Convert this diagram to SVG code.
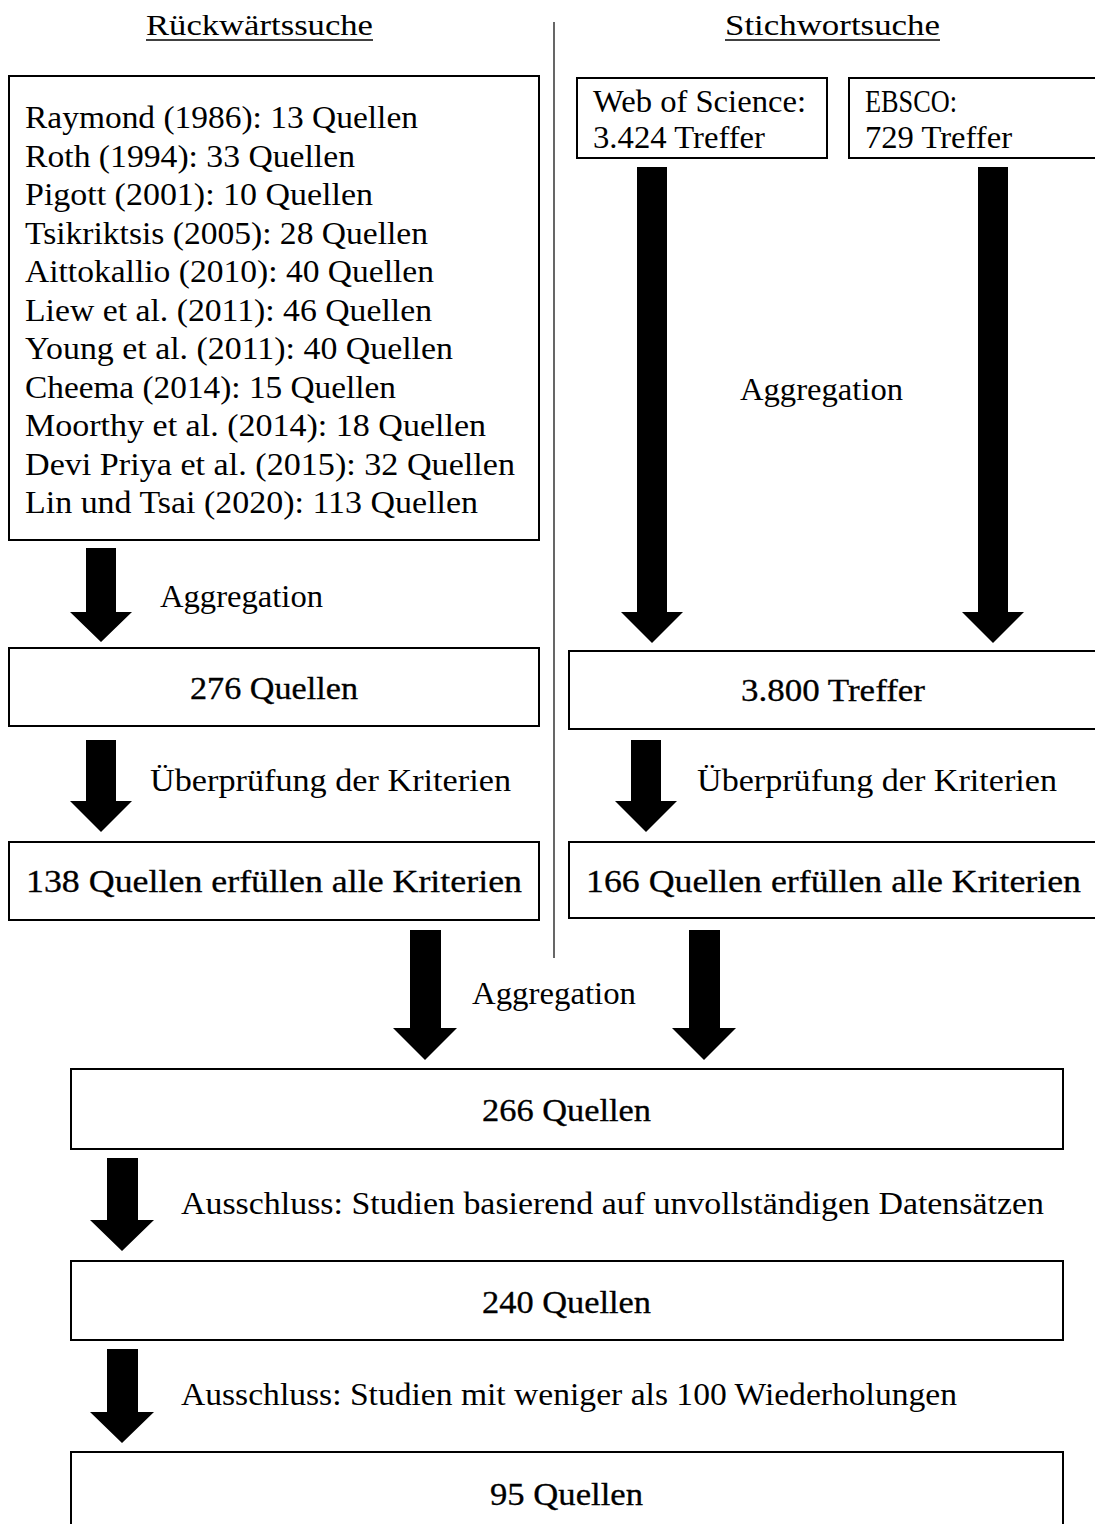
<svg xmlns="http://www.w3.org/2000/svg" width="1095" height="1524" viewBox="0 0 1095 1524" font-family="Liberation Serif, DejaVu Serif, serif">
<style>
text{font-family:'Liberation Serif','DejaVu Serif',serif;font-size:31.5px;fill:#000}
.b{stroke:#000;stroke-width:0.3}
.h{font-size:29px}
rect.n{fill:#fff;stroke:#000;stroke-width:2}
.ar{fill:#000}
</style>
<rect width="1095" height="1524" fill="#fff"/>
<g id="headers">
<text class="h" x="146" y="35" textLength="227" lengthAdjust="spacingAndGlyphs">Rückwärtssuche</text>
<line x1="146" y1="40" x2="373" y2="40" stroke="#000" stroke-width="1.6"/>
<text class="h" x="725" y="35" textLength="215" lengthAdjust="spacingAndGlyphs">Stichwortsuche</text>
<line x1="725" y1="40" x2="940" y2="40" stroke="#000" stroke-width="1.6"/>
</g>
<line id="divider" x1="554" y1="22" x2="554" y2="958" stroke="#000" stroke-width="1.2"/>
<g id="n_list">
<rect class="n" x="9" y="76" width="530" height="464"/>
<text x="25" y="128" textLength="393" lengthAdjust="spacingAndGlyphs">Raymond (1986): 13 Quellen</text>
<text x="25" y="166.5" textLength="330" lengthAdjust="spacingAndGlyphs">Roth (1994): 33 Quellen</text>
<text x="25" y="205" textLength="348" lengthAdjust="spacingAndGlyphs">Pigott (2001): 10 Quellen</text>
<text x="25" y="243.5" textLength="403" lengthAdjust="spacingAndGlyphs">Tsikriktsis (2005): 28 Quellen</text>
<text x="25" y="282" textLength="409" lengthAdjust="spacingAndGlyphs">Aittokallio (2010): 40 Quellen</text>
<text x="25" y="320.5" textLength="407" lengthAdjust="spacingAndGlyphs">Liew et al. (2011): 46 Quellen</text>
<text x="25" y="359" textLength="428" lengthAdjust="spacingAndGlyphs">Young et al. (2011): 40 Quellen</text>
<text x="25" y="397.5" textLength="371" lengthAdjust="spacingAndGlyphs">Cheema (2014): 15 Quellen</text>
<text x="25" y="436" textLength="461" lengthAdjust="spacingAndGlyphs">Moorthy et al. (2014): 18 Quellen</text>
<text x="25" y="474.5" textLength="490" lengthAdjust="spacingAndGlyphs">Devi Priya et al. (2015): 32 Quellen</text>
<text x="25" y="513" textLength="453" lengthAdjust="spacingAndGlyphs">Lin und Tsai (2020): 113 Quellen</text>
</g>
<g id="n_wos">
<rect class="n" x="577" y="78" width="250" height="80"/>
<text x="593" y="112" textLength="213" lengthAdjust="spacingAndGlyphs">Web of Science:</text>
<text x="593" y="148" textLength="172" lengthAdjust="spacingAndGlyphs">3.424 Treffer</text>
</g>
<g id="n_ebsco">
<rect class="n" x="849" y="78" width="260" height="80"/>
<text x="865" y="112" textLength="92" lengthAdjust="spacingAndGlyphs">EBSCO:</text>
<text x="865" y="148" textLength="147" lengthAdjust="spacingAndGlyphs">729 Treffer</text>
</g>
<g id="n_276">
<rect class="n" x="9" y="648" width="530" height="78"/>
<text class="b" x="190" y="699" textLength="168" lengthAdjust="spacingAndGlyphs">276 Quellen</text>
</g>
<g id="n_3800">
<rect class="n" x="569" y="651" width="540" height="78"/>
<text class="b" x="741" y="701" textLength="184" lengthAdjust="spacingAndGlyphs">3.800 Treffer</text>
</g>
<g id="n_138">
<rect class="n" x="9" y="842" width="530" height="78"/>
<text class="b" x="26" y="892" textLength="496" lengthAdjust="spacingAndGlyphs">138 Quellen erfüllen alle Kriterien</text>
</g>
<g id="n_166">
<rect class="n" x="569" y="842" width="540" height="76"/>
<text class="b" x="586" y="892" textLength="495" lengthAdjust="spacingAndGlyphs">166 Quellen erfüllen alle Kriterien</text>
</g>
<g id="n_266">
<rect class="n" x="71" y="1069" width="992" height="80"/>
<text class="b" x="482" y="1121" textLength="169" lengthAdjust="spacingAndGlyphs">266 Quellen</text>
</g>
<g id="n_240">
<rect class="n" x="71" y="1261" width="992" height="79"/>
<text class="b" x="482" y="1313" textLength="169" lengthAdjust="spacingAndGlyphs">240 Quellen</text>
</g>
<g id="n_95">
<rect class="n" x="71" y="1452" width="992" height="90"/>
<text class="b" x="490" y="1505" textLength="153" lengthAdjust="spacingAndGlyphs">95 Quellen</text>
</g>
<g id="connectors">
<polygon class="ar" points="637,167 667,167 667,612 683,612 652,643 621,612 637,612"/>
<polygon class="ar" points="978,167 1008,167 1008,612 1024,612 993,643 962,612 978,612"/>
<text x="740" y="400" textLength="163" lengthAdjust="spacingAndGlyphs">Aggregation</text>
<polygon class="ar" points="86,548 116,548 116,612 132,612 101,642 70,612 86,612"/>
<text x="160" y="607" textLength="163" lengthAdjust="spacingAndGlyphs">Aggregation</text>
<polygon class="ar" points="86,740 116,740 116,801 132,801 101,832 70,801 86,801"/>
<text x="150" y="791" textLength="361" lengthAdjust="spacingAndGlyphs">Überprüfung der Kriterien</text>
<polygon class="ar" points="631,740 661,740 661,801 677,801 646,832 615,801 631,801"/>
<text x="697" y="791" textLength="360" lengthAdjust="spacingAndGlyphs">Überprüfung der Kriterien</text>
<polygon class="ar" points="410,930 441,930 441,1028 457,1028 425,1060 393,1028 410,1028"/>
<polygon class="ar" points="689,930 720,930 720,1028 736,1028 704,1060 672,1028 689,1028"/>
<text x="472" y="1004" textLength="164" lengthAdjust="spacingAndGlyphs">Aggregation</text>
<polygon class="ar" points="107,1158 138,1158 138,1220 154,1220 122,1251 90,1220 107,1220"/>
<text x="181" y="1214" textLength="863" lengthAdjust="spacingAndGlyphs">Ausschluss: Studien basierend auf unvollständigen Datensätzen</text>
<polygon class="ar" points="107,1349 138,1349 138,1412 154,1412 122,1443 90,1412 107,1412"/>
<text x="181" y="1405" textLength="776" lengthAdjust="spacingAndGlyphs">Ausschluss: Studien mit weniger als 100 Wiederholungen</text>
</g>
</svg>
